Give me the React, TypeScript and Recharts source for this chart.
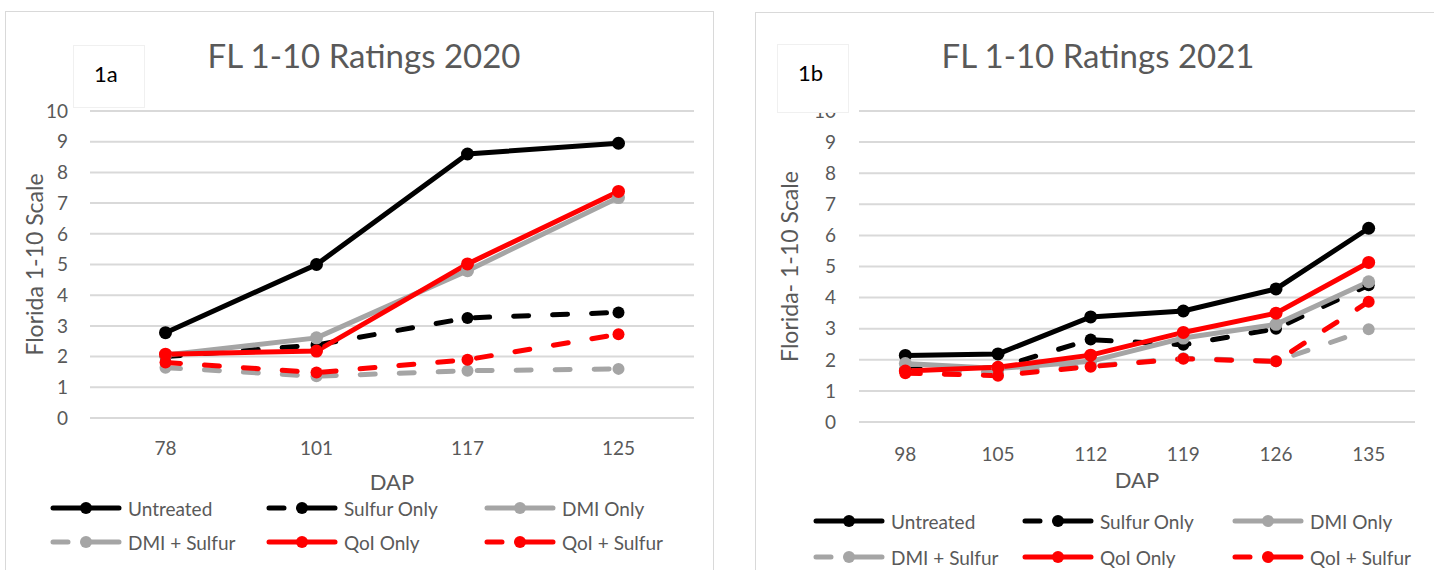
import { LineChart, Line, XAxis, YAxis, CartesianGrid } from "recharts";

const FONT = "Lato, 'Open Sans', sans-serif";
const TEXT = "#595959";
const GRID = "#d9d9d9";

// 2020 season, days after planting
const dap2020 = ["78", "101", "117", "125"];
const untreated2020 = [2.78, 5.0, 8.6, 8.95];
const sulfur2020 = [2.0, 2.38, 3.26, 3.44];
const dmi2020 = [2.05, 2.61, 4.8, 7.18];
const dmiSulfur2020 = [1.64, 1.36, 1.54, 1.6];
const qoi2020 = [2.08, 2.18, 5.02, 7.38];
const qoiSulfur2020 = [1.81, 1.48, 1.9, 2.73];

// 2021 season
const dap2021 = ["98", "105", "112", "119", "126", "135"];
const untreated2021 = [2.14, 2.19, 3.38, 3.57, 4.28, 6.23];
const sulfur2021 = [1.7, 1.75, 2.65, 2.48, 3.0, 4.4];
const dmi2021 = [1.88, 1.72, 1.95, 2.7, 3.14, 4.51];
const dmiSulfur2021 = [1.65, 1.6, 1.8, 2.05, 1.95, 2.98];
const qoi2021 = [1.64, 1.76, 2.15, 2.88, 3.5, 5.13];
const qoiSulfur2021 = [1.57, 1.49, 1.78, 2.03, 1.95, 3.87];

const yTicks = [0, 1, 2, 3, 4, 5, 6, 7, 8, 9, 10];

const SERIES = [
  { key: "untreated", name: "Untreated", color: "#000000", dashed: false },
  { key: "sulfur", name: "Sulfur Only", color: "#000000", dashed: true },
  { key: "dmi", name: "DMI Only", color: "#a5a5a5", dashed: false },
  { key: "dmiSulfur", name: "DMI + Sulfur", color: "#a5a5a5", dashed: true },
  { key: "qoi", name: "QoI Only", color: "#ff0000", dashed: false },
  { key: "qoiSulfur", name: "QoI + Sulfur", color: "#ff0000", dashed: true },
];

type Row = Record<string, string | number>;

function buildRows(categories: string[], values: number[][]): Row[] {
  return categories.map((dap, i) => {
    const row: Row = { dap };
    SERIES.forEach((s, j) => {
      row[s.key] = values[j][i];
    });
    return row;
  });
}

const rows2020 = buildRows(dap2020, [untreated2020, sulfur2020, dmi2020, dmiSulfur2020, qoi2020, qoiSulfur2020]);
const rows2021 = buildRows(dap2021, [untreated2021, sulfur2021, dmi2021, dmiSulfur2021, qoi2021, qoiSulfur2021]);

function LegendIcon({ color, dashed }: { color: string; dashed: boolean }) {
  return (
    <svg width={72} height={16} style={{ display: "block" }}>
      <line
        x1={3}
        y1={8}
        x2={69}
        y2={8}
        stroke={color}
        strokeWidth={5}
        strokeLinecap="round"
        strokeDasharray={dashed ? "15 15 40" : undefined}
      />
      <circle cx={36} cy={8} r={6} fill={color} />
    </svg>
  );
}

interface PanelLayout {
  left: number;
  width: number;
  frame: { left: number; top: number };
  margin: { top: number; right: number; bottom: number; left: number };
  xAxisHeight: number;
  xTickMargin: number;
  dapOffset: number;
  yTickMargin: number;
  yLabelOffset: number;
  titleX: number;
  tagBox: { left: number; top: number; height: number };
  legendCols: number[];
  legendRows: number[];
}

function Panel({
  title,
  tag,
  yLabel,
  rows,
  layout,
}: {
  title: string;
  tag: string;
  yLabel: string;
  rows: Row[];
  layout: PanelLayout;
}) {
  const { margin } = layout;
  const plotWidth = layout.width - margin.left - 75 - margin.right;
  const half = plotWidth / rows.length / 2;

  return (
    <div style={{ position: "absolute", left: layout.left, top: 0, width: layout.width, height: 570, fontFamily: FONT }}>
      <div
        style={{
          position: "absolute",
          left: layout.frame.left,
          top: layout.frame.top,
          width: 709,
          height: 620,
          border: `1.5px solid ${GRID}`,
          boxSizing: "border-box",
        }}
      />
      <div style={{ position: "absolute", left: 0, top: 0 }}>
        <LineChart width={layout.width} height={500} data={rows} margin={margin}>
          <CartesianGrid vertical={false} stroke={GRID} strokeWidth={2} />
          <XAxis
            dataKey="dap"
            height={layout.xAxisHeight}
            axisLine={false}
            tickLine={false}
            tickMargin={layout.xTickMargin}
            padding={{ left: half, right: half }}
            tick={{ fill: TEXT, fontSize: 19, fontFamily: FONT }}
            label={{
              value: "DAP",
              position: "insideBottom",
              offset: layout.dapOffset,
              fill: TEXT,
              fontSize: 22,
              fontFamily: FONT,
            }}
          />
          <YAxis
            width={75}
            domain={[0, 10]}
            ticks={yTicks}
            interval={0}
            axisLine={false}
            tickLine={false}
            tickMargin={layout.yTickMargin}
            tick={{ fill: TEXT, fontSize: 19, fontFamily: FONT }}
            label={{
              value: yLabel,
              angle: -90,
              position: "insideLeft",
              offset: layout.yLabelOffset,
              fill: TEXT,
              fontSize: 23,
              fontFamily: FONT,
              style: { textAnchor: "middle" },
            }}
          />
          {SERIES.map((s) => (
            <Line
              key={s.key}
              type="linear"
              dataKey={s.key}
              name={s.name}
              stroke={s.color}
              strokeWidth={5}
              strokeLinecap="round"
              strokeDasharray={s.dashed ? "15 24" : undefined}
              dot={{ r: s.dashed ? 6 : 6.5, fill: s.color, stroke: "none", strokeWidth: 0, strokeDasharray: "0" }}
              isAnimationActive={false}
            />
          ))}
        </LineChart>
      </div>
      <div
        style={{
          position: "absolute",
          left: layout.titleX - 250,
          top: 39,
          width: 500,
          textAlign: "center",
          fontSize: 33,
          lineHeight: "33px",
          color: TEXT,
        }}
      >
        {title}
      </div>
      <div
        style={{
          position: "absolute",
          left: layout.tagBox.left,
          top: layout.tagBox.top,
          width: 72,
          height: layout.tagBox.height,
          background: "#ffffff",
          border: "1px solid #f0f0f0",
          boxSizing: "border-box",
          zIndex: 2,
        }}
      >
        <div style={{ position: "absolute", left: 20, top: 17, fontSize: 22, lineHeight: "22px", color: "#000000" }}>{tag}</div>
      </div>
      {SERIES.map((s, i) => (
        <div
          key={s.key}
          style={{
            position: "absolute",
            left: layout.legendCols[i % 3],
            top: layout.legendRows[Math.floor(i / 3)] - 11,
            height: 22,
            display: "flex",
            alignItems: "center",
            gap: 6,
            fontSize: 19,
            color: TEXT,
            whiteSpace: "nowrap",
          }}
        >
          <LegendIcon color={s.color} dashed={s.dashed} />
          <span>{s.name}</span>
        </div>
      ))}
    </div>
  );
}

const layout2020: PanelLayout = {
  left: 0,
  width: 720,
  frame: { left: 5, top: 11 },
  margin: { top: 111, right: 26, bottom: 8, left: 15 },
  xAxisHeight: 74,
  xTickMargin: 18,
  dapOffset: 2,
  yTickMargin: 16,
  yLabelOffset: 20,
  titleX: 364,
  tagBox: { left: 73, top: 45, height: 63 },
  legendCols: [50, 266, 484],
  legendRows: [508, 542],
};

const layout2021: PanelLayout = {
  left: 720,
  width: 714,
  frame: { left: 35, top: 12 },
  margin: { top: 111, right: 19, bottom: 8, left: 64 },
  xAxisHeight: 70,
  xTickMargin: 20,
  dapOffset: 4,
  yTickMargin: 17,
  yLabelOffset: 6,
  titleX: 378,
  tagBox: { left: 57, top: 44, height: 69 },
  legendCols: [93, 302, 512],
  legendRows: [521, 557],
};

export default function App() {
  return (
    <div style={{ position: "fixed", left: 0, top: 0, width: 1434, height: 570, background: "#ffffff", overflow: "hidden" }}>
      <Panel title="FL 1-10 Ratings 2020" tag="1a" yLabel="Florida 1-10 Scale" rows={rows2020} layout={layout2020} />
      <Panel title="FL 1-10 Ratings 2021" tag="1b" yLabel="Florida- 1-10 Scale" rows={rows2021} layout={layout2021} />
    </div>
  );
}
